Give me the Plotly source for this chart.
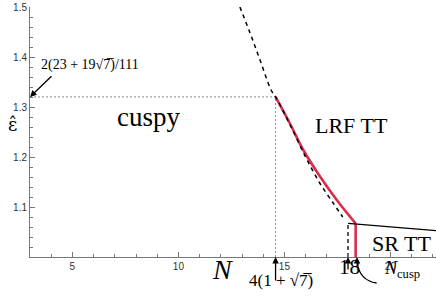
import plotly.graph_objects as go

# --- data ---
dash_N = [12.9, 13.38, 13.85, 14.37, 14.583, 15.26, 16.0, 16.68, 17.3, 17.75]
dash_eps = [1.5, 1.448, 1.394, 1.334, 1.3202, 1.265, 1.2, 1.147, 1.108, 1.080]

red_N = [14.583, 15.26, 15.89, 16.68, 17.47, 18.36]
red_eps = [1.3202, 1.267, 1.214, 1.161, 1.114, 1.067]

cusp_N = [18.36, 18.36]
cusp_eps = [1.067, 1.0]

sr_N = [18.0, 19.0, 20.0, 21.0, 22.15]
sr_eps = [1.0674, 1.064, 1.060, 1.0565, 1.0526]

v18_N = [18.0, 18.0]
v18_eps = [1.0, 1.0674]

N_star = 14.583   # 4(1+sqrt7)
eps_star = 1.3202  # 2(23+19 sqrt7)/111

x_ticks = [5, 10, 15, 20]
y_ticks = [1.1, 1.2, 1.3, 1.4, 1.5]
y_ticktext = ["1.1", "1.2", "1.3", "1.4", "1.5"]

serif = "Liberation Serif, DejaVu Serif, serif"
sans = "Liberation Sans, Arial, sans-serif"
red = "#dc2c4e"

fig = go.Figure()
fig.add_trace(go.Scatter(x=[3, N_star], y=[eps_star, eps_star], mode="lines",
                         line=dict(color="#8a8a8a", width=1, dash="2px,2px"), hoverinfo="skip"))
fig.add_trace(go.Scatter(x=[N_star, N_star], y=[1.0, eps_star], mode="lines",
                         line=dict(color="#8a8a8a", width=1, dash="2px,2px"), hoverinfo="skip"))
fig.add_trace(go.Scatter(x=red_N, y=red_eps, mode="lines",
                         line=dict(color=red, width=2.6, shape="spline"), hoverinfo="skip"))
fig.add_trace(go.Scatter(x=cusp_N, y=cusp_eps, mode="lines",
                         line=dict(color=red, width=2.6), hoverinfo="skip"))
fig.add_trace(go.Scatter(x=dash_N, y=dash_eps, mode="lines",
                         line=dict(color="black", width=1.5, dash="4px,4px", shape="spline"),
                         hoverinfo="skip"))
fig.add_trace(go.Scatter(x=v18_N, y=v18_eps, mode="lines",
                         line=dict(color="black", width=1.3, dash="4px,3px"), hoverinfo="skip"))
fig.add_trace(go.Scatter(x=sr_N, y=sr_eps, mode="lines",
                         line=dict(color="black", width=1.3), hoverinfo="skip"))

ann = []
ann.append(dict(x=5.83, y=1.384, xref="x", yref="y", text="2(23 + 19√7̅)/111",
                showarrow=False, font=dict(family=serif, size=14, color="black")))
ann.append(dict(x=3.0, y=eps_star, xref="x", yref="y", text="", showarrow=True,
                ax=23, ay=-22, arrowhead=2, arrowsize=1, arrowwidth=1.3, arrowcolor="black"))
ann.append(dict(x=8.59, y=1.28, xref="x", yref="y", text="cuspy", showarrow=False,
                font=dict(family=serif, size=27, color="black")))
ann.append(dict(x=18.17, y=1.264, xref="x", yref="y", text="LRF TT", showarrow=False,
                font=dict(family=serif, size=22, color="black")))
ann.append(dict(x=20.5, y=1.028, xref="x", yref="y", text="SR TT", showarrow=False,
                font=dict(family=serif, size=22, color="black")))
ann.append(dict(x=12.06, y=-0.12, xref="x", yref="paper", text="<i>N</i>", showarrow=False,
                font=dict(family=serif, size=28, color="black")))
ann.append(dict(x=14.85, y=-0.14, xref="x", yref="paper", text="4(1 + √7̅)", showarrow=False,
                font=dict(family=serif, size=17, color="black")))
ann.append(dict(x=N_star, y=0, xref="x", yref="paper", text="", showarrow=True,
                ax=0, ay=25, arrowhead=2, arrowsize=1, arrowwidth=1.3, arrowcolor="black"))
ann.append(dict(x=18.05, y=-0.095, xref="x", yref="paper", text="18", showarrow=False,
                font=dict(family=serif, size=21, color="black")))
ann.append(dict(x=18.0, y=0, xref="x", yref="paper", text="", showarrow=True,
                ax=0, ay=14, arrowhead=2, arrowsize=1, arrowwidth=1.3, arrowcolor="black"))
ann.append(dict(x=20.55, y=-0.102, xref="x", yref="paper", text="<i>N</i><sub>cusp</sub>",
                showarrow=False, font=dict(family=serif, size=18, color="black")))
ann.append(dict(x=18.42, y=0, xref="x", yref="paper", text="", showarrow=True,
                ax=0, ay=6, arrowhead=2, arrowsize=1, arrowwidth=1.3, arrowcolor="black"))
# y-axis symbol (epsilon with hat)
ann.append(dict(x=-0.06, y=0.53, xref="paper", yref="paper", text="ε̂", showarrow=False,
                font=dict(family="DejaVu Serif, serif", size=18, color="black")))

fig.update_layout(
    width=436, height=302,
    margin=dict(l=30, r=0, t=7, b=45),
    paper_bgcolor="white", plot_bgcolor="white",
    showlegend=False,
    annotations=ann,
    shapes=[dict(type="path", xref="x", yref="paper",
                 path="M 18.42,-0.02 Q 18.55,-0.095 19.35,-0.104",
                 line=dict(color="black", width=1.3))],
    xaxis=dict(range=[3, 22.15], tickmode="array", tickvals=x_ticks, automargin=False,
               ticks="inside", ticklen=5, tickcolor="#777", showline=True, linecolor="#777",
               linewidth=1, showgrid=False, zeroline=False,
               tickfont=dict(family=sans, size=10, color="#333"),
               minor=dict(ticks="inside", ticklen=3, tick0=3, dtick=1, tickcolor="#777", showgrid=False)),
    yaxis=dict(range=[1.0, 1.5], tickmode="array", tickvals=y_ticks, ticktext=y_ticktext,
               automargin=False,
               ticks="inside", ticklen=5, tickcolor="#777", showline=True, linecolor="#777",
               linewidth=1, showgrid=False, zeroline=False,
               tickfont=dict(family=sans, size=10, color="#333"),
               minor=dict(ticks="inside", ticklen=3, tick0=1.0, dtick=0.02, tickcolor="#777", showgrid=False)),
)

fig.write_html("out.html", config={"displayModeBar": False},
               post_script="document.body.style.margin='0';")
